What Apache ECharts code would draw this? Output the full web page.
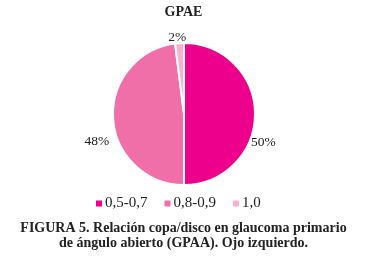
<!DOCTYPE html>
<html>
<head>
<meta charset="utf-8">
<script src="https://cdn.jsdelivr.net/npm/echarts@6/dist/echarts.min.js"></script>
<style>
  html, body { margin: 0; padding: 0; background: #fff; }
  #chart { width: 367px; height: 259px; }
</style>
</head>
<body>
<div id="chart"></div>
<script>
const categories = ['0,5-0,7', '0,8-0,9', '1,0'];
const values = [50, 48, 2];
const colors = ['#EC008C', '#F06FA9', '#F7B3CE'];
const labelOffsets = [[-13, 28], [5, 23], [12, -2]];

const chart = echarts.init(document.getElementById('chart'));
const font = '"Liberation Serif", "Times New Roman", serif';

const option = {
  animation: false,
  textStyle: { fontFamily: font },
  title: [
    {
      text: 'GPAE',
      left: 'center',
      top: 0,
      textStyle: { fontFamily: font, fontSize: 14, fontWeight: 'bold', color: '#222' }
    },
    {
      text: 'FIGURA 5. Relación copa/disco en glaucoma primario\nde ángulo abierto (GPAA). Ojo izquierdo.',
      left: 'center',
      top: 216,
      textStyle: { fontFamily: font, fontSize: 14, fontWeight: 'bold', color: '#222', lineHeight: 15, align: 'center' }
    }
  ],
  legend: {
    left: 89,
    top: 191,
    itemWidth: 8,
    itemHeight: 8,
    itemGap: 15,
    icon: 'rect',
    textStyle: { fontFamily: font, fontSize: 15, color: '#222', padding: [0, 0, 0, -3] },
    data: categories
  },
  series: [
    {
      type: 'pie',
      center: [184, 114],
      radius: 71,
      startAngle: 90,
      clockwise: true,
      itemStyle: { borderColor: '#fff', borderWidth: 2 },
      label: {
        show: true,
        position: 'outside',
        formatter: '{c}%',
        fontFamily: font,
        fontSize: 13.5,
        color: '#222'
      },
      labelLine: { show: false, length: 4, length2: 0 },
      emphasis: { disabled: true },
      data: categories.map((name, i) => ({
        name: name,
        value: values[i],
        itemStyle: { color: colors[i] },
        label: { offset: labelOffsets[i] }
      }))
    }
  ]
};

chart.setOption(option);
</script>
</body>
</html>
